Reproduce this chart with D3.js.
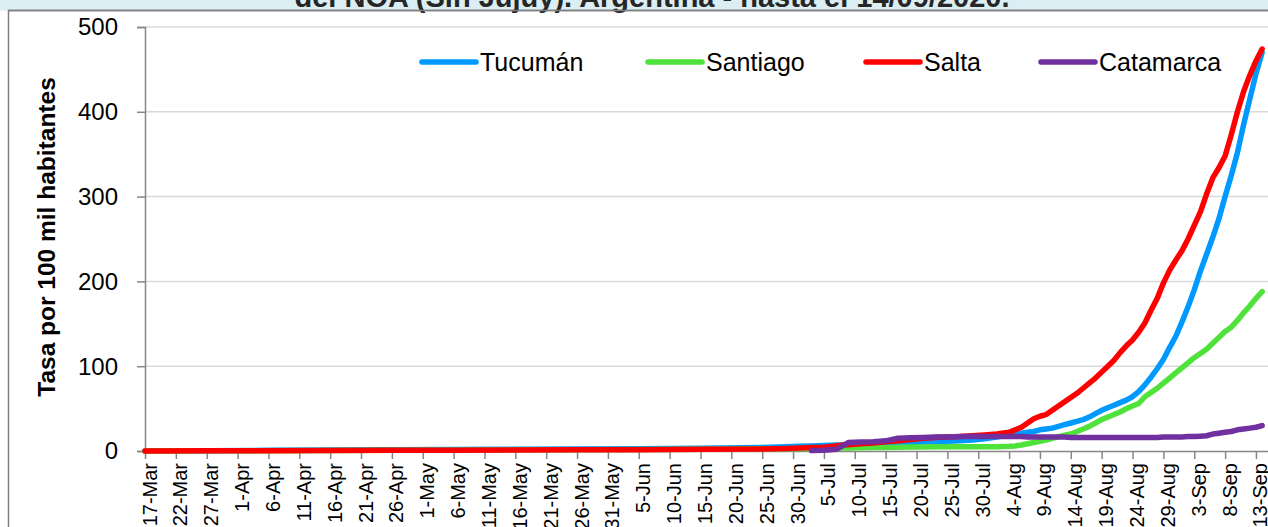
<!DOCTYPE html>
<html>
<head>
<meta charset="utf-8">
<script src="https://cdn.jsdelivr.net/npm/d3@7"></script>
<style>
  html, body { margin: 0; padding: 0; background: #ffffff; }
  svg { display: block; }
</style>
</head>
<body>
<svg id="chart" width="1268" height="527"></svg>
<script>
// ---------------- DATA ----------------
const titleText = "del NOA (Sin Jujuy). Argentina - hasta el 14/09/2020.";
const yAxisTitle = "Tasa por 100 mil habitantes";
const seriesNames = ["Tucumán", "Santiago", "Salta", "Catamarca"];
const seriesColors = ["#0099ff", "#4fe23a", "#ff0000", "#7030a0"];
const yTicks = [0, 100, 200, 300, 400, 500];
const xTickLabels = ["17-Mar","22-Mar","27-Mar","1-Apr","6-Apr","11-Apr","16-Apr","21-Apr","26-Apr",
  "1-May","6-May","11-May","16-May","21-May","26-May","31-May","5-Jun","10-Jun","15-Jun","20-Jun",
  "25-Jun","30-Jun","5-Jul","10-Jul","15-Jul","20-Jul","25-Jul","30-Jul","4-Aug","9-Aug","14-Aug",
  "19-Aug","24-Aug","29-Aug","3-Sep","8-Sep","13-Sep"];

const dates = ["17-Mar","27-Mar","6-Apr","16-Apr","26-Apr","6-May","16-May","26-May","5-Jun","15-Jun",
  "25-Jun","29-Jun","1-Jul","3-Jul","5-Jul","7-Jul","8-Jul","9-Jul","11-Jul","13-Jul","15-Jul","17-Jul",
  "19-Jul","21-Jul","23-Jul","25-Jul","27-Jul","29-Jul","31-Jul","2-Aug","4-Aug",
  "5-Aug","6-Aug","7-Aug","8-Aug","9-Aug","10-Aug","11-Aug","12-Aug","13-Aug","14-Aug","15-Aug","16-Aug",
  "17-Aug","18-Aug","19-Aug","20-Aug","21-Aug","22-Aug","23-Aug","24-Aug","25-Aug","26-Aug","27-Aug",
  "28-Aug","29-Aug","30-Aug","31-Aug","1-Sep","2-Sep","3-Sep","4-Sep","5-Sep","6-Sep","7-Sep","8-Sep",
  "9-Sep","10-Sep","11-Sep","12-Sep","13-Sep","14-Sep"];

const tucuman = [0.1,0.3,0.8,1.2,1.5,1.8,2.1,2.4,2.8,3.3,
  4.2,5,5.5,6,6.5,7,7.2,7.5,8,8.5,9,9.5,
  10,10.5,11,11.5,12,13,14.5,16.5,19,
  20,21,22,23,25,26,27,29,31,33,35,37,
  40,44,48,51,54,57,60,64,70,78,87,
  97,108,122,135,152,170,190,212,232,252,274,300,
  325,352,385,415,445,470];

const santiago = [0,0.2,0.4,0.6,0.8,1,1.2,1.5,1.8,2.2,
  2.6,2.8,3,3,3.2,3.4,3.5,3.6,3.8,4,4.2,4.4,
  4.6,4.8,5,5,5,5,5,5,5.5,
  6,7,8.5,10,11.5,13,15,17,18.5,20,23,26,
  29,33,37,40,43,46,50,53,56,64,69,
  74,80,86,92,98,104,110,115,120,127,134,141,
  146,154,163,171,180,188];

const salta = [0,0.2,0.4,0.6,0.8,1,1.2,1.4,1.6,2,
  2.5,3,3.5,4,4.5,6,7,7.5,8.5,9.5,11,12,
  13.5,15,16,16.5,17,18,19,20,22,
  25,28,33,38,41,43,48,53,58,63,68,74,
  80,86,93,100,107,116,124,131,140,151,166,
  180,198,213,225,236,250,266,282,303,322,334,348,
  373,400,424,443,460,474];

const catamarca = [null,null,null,null,null,null,null,null,null,null,
  null,null,null,0.5,1,2,6,10,10.5,11,12,15,
  15.5,16,16.5,16.5,17,17,17,17,17,
  17,17,16.5,16.5,16.5,16.5,16.5,16.5,16.5,16,16,16,
  16,16,16,16,16,16,16,16,16,16,16,
  16,16.5,16.5,16.5,16.5,17,17,17.5,18,20,21,22,23,
  25,26,27,28,30,31].slice(0, 72);

// ---------------- CHART ----------------
const W = 1268, H = 527;
const svg = d3.select("#chart");
const parse = d3.utcParse("%d-%b-%Y");
const toDate = s => parse(s + "-2020");

const x = d3.scaleUtc()
  .domain([toDate("17-Mar"), toDate("15-Sep")])
  .range([145, 145 + 182 * 6.172]);
const y = d3.scaleLinear().domain([0, 500]).range([451, 27]);

// background strip and frame
svg.append("rect").attr("x", 0).attr("y", 0).attr("width", W).attr("height", 10.5).attr("fill", "#daeef3");
svg.append("rect").attr("x", 8.5).attr("y", 10.5).attr("width", W + 10).attr("height", H + 10)
  .attr("fill", "#ffffff").attr("stroke", "#7f7f7f").attr("stroke-width", 1.5);

// title (clipped at top, as in the reference)
svg.append("text")
  .attr("x", 652).attr("y", 7)
  .attr("text-anchor", "middle")
  .attr("font-family", "Liberation Sans, Arial, sans-serif")
  .attr("font-weight", "bold")
  .attr("font-size", 29)
  .attr("fill", "#262626")
  .text(titleText);
svg.append("line").attr("x1", 8).attr("x2", W).attr("y1", 10.5).attr("y2", 10.5)
  .attr("stroke", "#7f7f7f").attr("stroke-width", 1.5);

// gridlines
svg.append("g").selectAll("line").data(yTicks.filter(t => t > 0)).join("line")
  .attr("x1", 145).attr("x2", W)
  .attr("y1", d => y(d)).attr("y2", d => y(d))
  .attr("stroke", "#d9d9d9").attr("stroke-width", 1.5);

// y axis
const yAxis = d3.axisLeft(y).tickValues(yTicks).tickSize(8).tickPadding(19).tickFormat(d3.format("d"));
const gy = svg.append("g").attr("transform", "translate(145,0)").call(yAxis);
gy.select(".domain").attr("stroke", "#868686").attr("stroke-width", 1.5);
gy.selectAll(".tick line").attr("stroke", "#868686").attr("stroke-width", 1.5);
gy.selectAll(".tick text")
  .attr("font-family", "Liberation Sans, Arial, sans-serif")
  .attr("font-size", 24).attr("fill", "#000").attr("dy", "0.33em");

// x axis
const xTickDates = xTickLabels.map(toDate);
const xAxis = d3.axisBottom(x).tickValues(xTickDates).tickSize(8).tickSizeOuter(0)
  .tickFormat((d, i) => xTickLabels[i]);
const gx = svg.append("g").attr("transform", "translate(0,451)").call(xAxis);
gx.select(".domain").attr("stroke", "#868686").attr("stroke-width", 1.5);
gx.selectAll(".tick line").attr("stroke", "#868686").attr("stroke-width", 1.5);
gx.selectAll(".tick text")
  .attr("font-family", "Liberation Sans, Arial, sans-serif")
  .attr("font-size", 20).attr("fill", "#000")
  .attr("text-anchor", "end")
  .attr("transform", "rotate(-90)")
  .attr("x", -12).attr("y", 0).attr("dy", "0.55em");

// y axis title
svg.append("text")
  .attr("transform", "translate(55,237) rotate(-90)")
  .attr("text-anchor", "middle")
  .attr("font-family", "Liberation Sans, Arial, sans-serif")
  .attr("font-weight", "bold").attr("font-size", 24.5)
  .attr("fill", "#000")
  .text(yAxisTitle);

// lines
const seriesValues = [tucuman, santiago, salta, catamarca];
const line = d3.line()
  .defined(d => d.v != null)
  .x(d => x(d.date)).y(d => y(d.v));
const gl = svg.append("g");
seriesValues.forEach((vals, i) => {
  const pts = dates.map((s, j) => ({ date: toDate(s), v: vals[j] }));
  gl.append("path").datum(pts)
    .attr("d", line)
    .attr("fill", "none")
    .attr("stroke", seriesColors[i])
    .attr("stroke-width", 5.5)
    .attr("stroke-linejoin", "round")
    .attr("stroke-linecap", "round");
});

// legend
const legendX = [422, 648, 866, 1041];
const lg = svg.append("g");
seriesNames.forEach((n, i) => {
  lg.append("line").attr("x1", legendX[i]).attr("x2", legendX[i] + 54)
    .attr("y1", 62).attr("y2", 62)
    .attr("stroke", seriesColors[i]).attr("stroke-width", 5.5).attr("stroke-linecap", "round");
  lg.append("text").attr("x", legendX[i] + 58).attr("y", 70.5)
    .attr("font-family", "Liberation Sans, Arial, sans-serif")
    .attr("font-size", 25).attr("fill", "#000")
    .text(n);
});
</script>
</body>
</html>
